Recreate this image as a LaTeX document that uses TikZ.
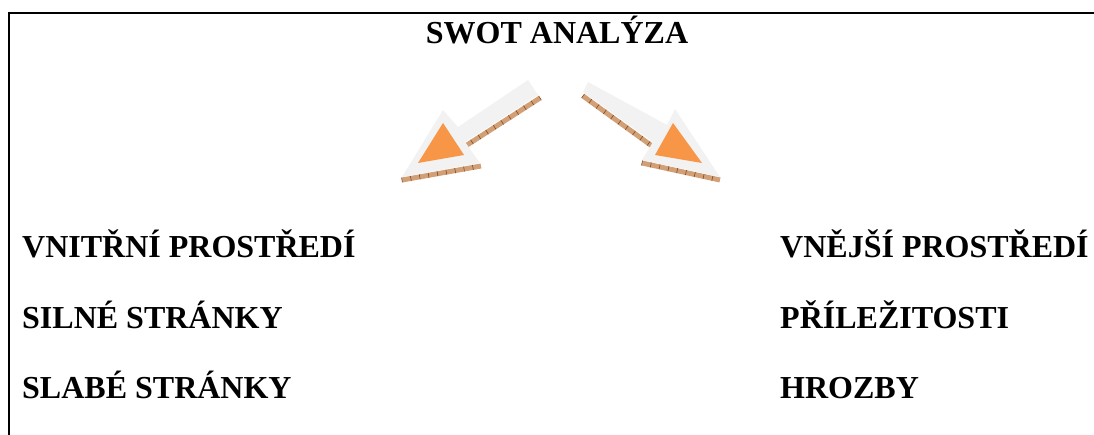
\documentclass[tikz,border=0pt]{standalone}
\usepackage{fontspec}
\setmainfont{Liberation Serif}
\usetikzlibrary{decorations.pathreplacing}
\definecolor{arrowgray}{RGB}{242,242,242}
\definecolor{arroworange}{RGB}{247,150,70}
\definecolor{shadowtan}{RGB}{210,160,118}
\definecolor{shadowbrown}{RGB}{130,72,34}
\tikzset{
  label/.style={anchor=base west,inner sep=0pt,font=\fontsize{32}{36}\selectfont\bfseries},
  shadow/.style={draw=shadowtan,line width=5pt},
  ticksline/.style={shadowbrown,line width=0.6pt,decorate,decoration={ticks,segment length=9pt,amplitude=2.5pt}}
}
\begin{document}
\begin{tikzpicture}[x=1pt,y=-1pt]
   \useasboundingbox (0,0) rectangle (1094,435);
   \draw[line width=2.8pt] (9,436) -- (9,13) -- (1095,13);

   \node[label,anchor=base] (title) at (557,44) {SWOT ANALÝZA};

   \node[label] (inner)  at (22,258) {VNITŘNÍ PROSTŘEDÍ};
   \node[label] (strong) at (22,329) {SILNÉ STRÁNKY};
   \node[label] (weak)   at (22,398) {SLABÉ STRÁNKY};
   \node[label] (outer)  at (780,258) {VNĚJŠÍ PROSTŘEDÍ};
   \node[label] (opp)    at (780,329) {PŘÍLEŽITOSTI};
   \node[label] (threat) at (780,398) {HROZBY};

   % left arrow
   \draw[shadow] (540,98) -- (467,145);
   \draw[shadow] (402,180) -- (481,166);
   \draw[ticksline] (540,98) -- (467,145);
   \draw[ticksline] (402,180) -- (481,166);
   \fill[arrowgray] (528,80) -- (538,95) -- (465,142) -- (480,163) -- (402,177)
      -- (443,110) -- (458,127) -- cycle;
   \fill[arroworange] (443,123) -- (418,163) -- (464,155) -- cycle;

   % right arrow
   \draw[shadow] (583,96) -- (652,146);
   \draw[shadow] (642,163) -- (720,180);
   \draw[ticksline] (583,96) -- (652,146);
   \draw[ticksline] (642,163) -- (720,180);
   \fill[arrowgray] (588,82) -- (667,125) -- (675,109) -- (720,177) -- (642,160)
      -- (653,142) -- (583,92) -- cycle;
   \fill[arroworange] (673,123) -- (655,155) -- (702,163) -- cycle;
\end{tikzpicture}
\end{document}
